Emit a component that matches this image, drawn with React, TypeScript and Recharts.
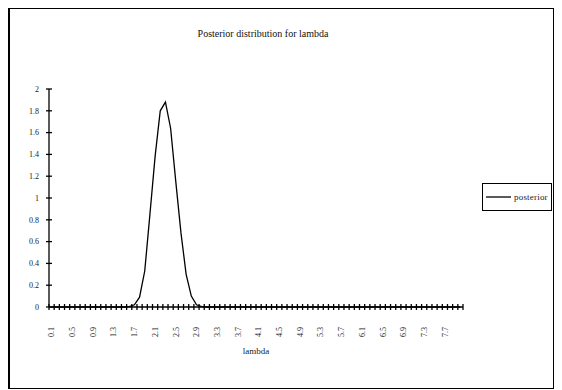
import React from 'react';
import { LineChart, Line, XAxis, YAxis, Legend } from 'recharts';

const lambdaValues = [
  '0.1', '0.2', '0.3', '0.4', '0.5', '0.6', '0.7', '0.8', '0.9', '1.0',
  '1.1', '1.2', '1.3', '1.4', '1.5', '1.6', '1.7', '1.8', '1.9', '2.0',
  '2.1', '2.2', '2.3', '2.4', '2.5', '2.6', '2.7', '2.8', '2.9', '3.0',
  '3.1', '3.2', '3.3', '3.4', '3.5', '3.6', '3.7', '3.8', '3.9', '4.0',
  '4.1', '4.2', '4.3', '4.4', '4.5', '4.6', '4.7', '4.8', '4.9', '5.0',
  '5.1', '5.2', '5.3', '5.4', '5.5', '5.6', '5.7', '5.8', '5.9', '6.0',
  '6.1', '6.2', '6.3', '6.4', '6.5', '6.6', '6.7', '6.8', '6.9', '7.0',
  '7.1', '7.2', '7.3', '7.4', '7.5', '7.6', '7.7', '7.8', '7.9', '8.0',
];

const posteriorValues = [
  0, 0, 0, 0, 0, 0, 0, 0, 0, 0,
  0, 0, 0, 0, 0, 0.004, 0.02, 0.09, 0.33, 0.85,
  1.38, 1.8, 1.88, 1.64, 1.15, 0.68, 0.3, 0.1, 0.02, 0.004,
  0, 0, 0, 0, 0, 0, 0, 0, 0, 0,
  0, 0, 0, 0, 0, 0, 0, 0, 0, 0,
  0, 0, 0, 0, 0, 0, 0, 0, 0, 0,
  0, 0, 0, 0, 0, 0, 0, 0, 0, 0,
  0, 0, 0, 0, 0, 0, 0, 0, 0, 0,
];

const yTicks = [0, 0.2, 0.4, 0.6, 0.8, 1, 1.2, 1.4, 1.6, 1.8, 2];
const chartTitle = 'Posterior distribution for lambda';
const xAxisTitle = 'lambda';
const seriesName = 'posterior';
const labelEvery = 4;

const data = lambdaValues.map((l, i) => ({ lambda: l, posterior: posteriorValues[i] }));

const W = 546;
const H = 381;
const MARGIN = { top: 81, right: 91, bottom: 42, left: 0 };
const Y_AXIS_W = 41;
const X_AXIS_H = 40;
const PLOT_W = W - MARGIN.right - MARGIN.left - Y_AXIS_W;
const HALF_BAND = PLOT_W / lambdaValues.length / 2;
const FONT = "'Liberation Serif', 'DejaVu Serif', serif";
const X_TICK_SIZE = 3;
const X_TICK_MARGIN = 17;
const Y_TICK_SIZE = 3;
const Y_TICK_MARGIN = 7;

const XTick = (props: any) => {
  const { x, y, payload, index, visibleTicksCount } = props;
  const axisY = y - X_TICK_SIZE - X_TICK_MARGIN;
  const bx = x - HALF_BAND;
  const last = index === visibleTicksCount - 1;
  return (
    <g>
      <line x1={bx} x2={bx} y1={axisY - 3} y2={axisY + 3} stroke="#000" strokeWidth={1.3} />
      {last && (
        <line x1={x + HALF_BAND} x2={x + HALF_BAND} y1={axisY - 3} y2={axisY + 3} stroke="#000" strokeWidth={1.3} />
      )}
      {index % labelEvery === 0 && (
        <text
          x={x}
          y={y}
          transform={`rotate(-90, ${x}, ${y})`}
          textAnchor="end"
          dy="0.35em"
          fontSize={8}
          fontFamily={FONT}
          fill="#222"
        >
          {payload.value}
        </text>
      )}
    </g>
  );
};

const YTick = (props: any) => {
  const { x, y, payload } = props;
  const ax = x + Y_TICK_SIZE + Y_TICK_MARGIN;
  return (
    <g>
      <line x1={ax - 3} x2={ax + 3} y1={y} y2={y} stroke="#000" strokeWidth={1.3} />
      <text x={x} y={y} textAnchor="end" dy="0.35em" fontSize={8} fontFamily={FONT} fill="#222">
        {String(payload.value)}
      </text>
    </g>
  );
};

const LegendBox = () => (
  <div
    style={{
      width: 70,
      height: 28,
      boxSizing: 'border-box',
      border: '1px solid #000',
      display: 'flex',
      alignItems: 'center',
      paddingLeft: 3,
      fontFamily: FONT,
      fontSize: 9,
      color: '#222',
      whiteSpace: 'nowrap',
      background: '#fff',
    }}
  >
    <svg width={25} height={4} style={{ display: 'block' }}>
      <line x1={0} x2={25} y1={2} y2={2} stroke="#000" strokeWidth={1.3} />
    </svg>
    <span style={{ marginLeft: 3, letterSpacing: 0.2 }}>{seriesName}</span>
  </div>
);

export default function App() {
  return (
    <div style={{ position: 'relative', width: W, height: H }}>
      <style>{'html { overflow: hidden; }'}</style>
      <LineChart width={W} height={H} data={data} margin={MARGIN}>
        <XAxis
          dataKey="lambda"
          scale="band"
          interval={0}
          height={X_AXIS_H}
          tickSize={X_TICK_SIZE}
          tickMargin={X_TICK_MARGIN}
          tickLine={false}
          axisLine={{ stroke: '#000', strokeWidth: 1.3 }}
          tick={<XTick />}
          label={{ value: xAxisTitle, position: 'insideBottom', offset: -7, fontSize: 9, fontFamily: FONT, fill: '#222' }}
        />
        <YAxis
          domain={[0, 2]}
          ticks={yTicks}
          width={Y_AXIS_W}
          tickSize={Y_TICK_SIZE}
          tickMargin={Y_TICK_MARGIN}
          tickLine={false}
          axisLine={{ stroke: '#000', strokeWidth: 1.3 }}
          tick={<YTick />}
          interval={0}
        />
        <Legend
          layout="vertical"
          align="center"
          verticalAlign="middle"
          content={<LegendBox />}
          wrapperStyle={{ position: 'absolute', left: 474, top: 175, width: 70, height: 28 }}
        />
        <Line
          type="linear"
          dataKey="posterior"
          name={seriesName}
          stroke="#000"
          strokeWidth={1.3}
          dot={false}
          isAnimationActive={false}
        />
      </LineChart>
      <div
        style={{
          position: 'absolute',
          left: 0,
          top: 20,
          width: 510,
          textAlign: 'center',
          fontFamily: FONT,
          fontSize: 10,
          lineHeight: '12px',
          color: '#111',
        }}
      >
        {chartTitle}
      </div>
      <div
        style={{
          position: 'absolute',
          left: 0,
          top: 0,
          width: W,
          height: H,
          boxSizing: 'border-box',
          borderTop: '1px solid #000',
          borderRight: '1px solid #000',
          borderBottom: '1px solid #000',
          borderLeft: '2px solid #000',
          pointerEvents: 'none',
        }}
      />
    </div>
  );
}
